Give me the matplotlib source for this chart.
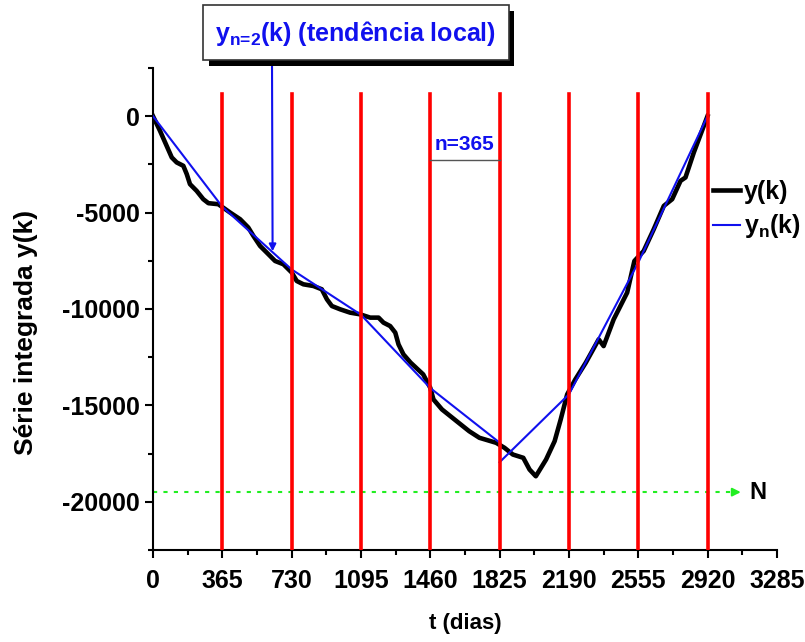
import numpy as np
import matplotlib
matplotlib.use('Agg')
from matplotlib import pyplot as plt
from matplotlib.patches import Rectangle

# série integrada y(k)
t_serie = [0, 37, 72, 99, 125, 160, 178, 195, 230, 265, 292, 344, 406, 459, 502, 529,
           564, 599, 643, 687, 731, 757, 792, 845, 889, 916, 942, 986, 1038, 1091,
           1144, 1188, 1214, 1249, 1276, 1293, 1319, 1357, 1423, 1460, 1477, 1522,
           1599, 1665, 1719, 1807, 1851, 1895, 1950, 1983, 2016, 2070, 2115, 2147,
           2181, 2224, 2279, 2347, 2373, 2426, 2497, 2535, 2584, 2637, 2690, 2734,
           2778, 2804, 2848, 2920]
y_serie = [0, -763, -1542, -2145, -2404, -2580, -3011, -3530, -3878, -4309, -4517,
           -4569, -5000, -5348, -5779, -6215, -6734, -7077, -7513, -7684, -8115,
           -8551, -8723, -8811, -8982, -9501, -9849, -10020, -10192, -10280, -10451,
           -10451, -10711, -10888, -11230, -11838, -12357, -12788, -13395, -14086,
           -14693, -15213, -15820, -16339, -16682, -16941, -17201, -17549, -17720,
           -18328, -18676, -17808, -16858, -15732, -14434, -13655, -12788, -11578,
           -11926, -10540, -9153, -7513, -6994, -5867, -4657, -4309, -3359, -3183,
           -1885, 0]

# tendência local y_n(k)
t_trend1 = [0, 365, 730, 1095, 1460, 1825]
y_trend1 = [0, -4700, -7950, -10300, -14100, -16930]
t_trend2 = [1825, 2190, 2555, 2920]
y_trend2 = [-17950, -14430, -7600, 0]

# divisões das caixas (n=365)
caixas = [365, 730, 1095, 1460, 1825, 2190, 2555, 2920]
x_ticks = [0, 365, 730, 1095, 1460, 1825, 2190, 2555, 2920, 3285]
y_ticks = [0, -5000, -10000, -15000, -20000]
N_nivel = -19500

plt.rcParams['font.family'] = ['Liberation Sans', 'DejaVu Sans']
plt.rcParams['axes.unicode_minus'] = False
plt.rcParams['mathtext.fontset'] = 'custom'
plt.rcParams['mathtext.bf'] = 'Liberation Sans:bold'
plt.rcParams['mathtext.rm'] = 'Liberation Sans:bold'

fig = plt.figure(figsize=(8.05, 6.42), dpi=100)
ax = fig.add_axes([0.190, 0.1433, 0.775, 0.751])

ax.plot(t_serie, y_serie, color='black', lw=3.3, solid_joinstyle='round', zorder=2, label='y(k)')
ax.plot(t_trend1, y_trend1, color='#1010ee', lw=1.5, zorder=3, label=r'y$_{\text{n}}$(k)')
ax.plot(t_trend2, y_trend2, color='#1010ee', lw=1.5, zorder=3)

for c in caixas:
    ax.plot([c, c], [-22500, 1150], color='#ff0000', lw=2.6, zorder=4)

# linha N
verde = '#22ee22'
ax.plot([0, 3060], [N_nivel, N_nivel], color=verde, lw=1.5, ls=(0, (2, 3)), zorder=1)
ax.annotate('', xy=(3110, N_nivel), xytext=(3040, N_nivel),
            arrowprops=dict(arrowstyle='-|>', color=verde, lw=1.5, mutation_scale=12))
ax.text(3140, N_nivel, 'N', fontsize=17, fontweight='bold', va='center', ha='left')

# n=365
ax.plot([1460, 1825], [-2300, -2300], color='#555555', lw=1, zorder=5)
ax.text(1642, -1950, 'n=365', color='#1010ee', fontsize=15, fontweight='bold',
        ha='center', va='bottom')

ax.set_xlim(0, 3285)
ax.set_ylim(-22500, 2500)
ax.set_xticks(x_ticks)
ax.set_xticks([x + 182.5 for x in x_ticks[:-1]], minor=True)
ax.set_yticks(y_ticks)
ax.set_yticks(np.arange(-22500, 2501, 2500), minor=True)
for lab in ax.get_xticklabels() + ax.get_yticklabels():
    lab.set_fontweight('bold')
ax.tick_params(axis='both', which='major', labelsize=18, length=6, width=1.5, direction='out')
ax.tick_params(axis='both', which='minor', length=3.5, width=1.5, direction='out')
ax.tick_params(axis='x', pad=8)
ax.spines['top'].set_visible(False)
ax.spines['right'].set_visible(False)
ax.spines['left'].set_linewidth(1.5)
ax.spines['bottom'].set_linewidth(1.5)

ax.set_xlabel('t (dias)', fontsize=16, fontweight='bold', labelpad=14)
ax.set_ylabel('Série integrada y(k)', fontsize=19, fontweight='bold')
ax.yaxis.set_label_coords(-0.185, 0.452)

leg = ax.legend(loc='center left', bbox_to_anchor=(0.897, 0.705), frameon=False,
                borderpad=0, borderaxespad=0,
                handlelength=1.1, handletextpad=0.15, labelspacing=0.35,
                prop={'size': 18, 'weight': 'bold'})

# caixa de anotação com sombra
fig.patches.append(Rectangle((209 / 805, 1 - 66 / 642), 305 / 805, 55 / 642,
                             transform=fig.transFigure, facecolor='black', edgecolor='none', zorder=5))
fig.patches.append(Rectangle((203 / 805, 1 - 60 / 642), 306 / 805, 55 / 642,
                             transform=fig.transFigure, facecolor='white', edgecolor='#333333',
                             lw=1.2, zorder=6))
fig.text(356 / 805, 1 - 33 / 642, r'y$_{\text{n=2}}$(k) (tendência local)', color='#1010ee',
         fontsize=18, fontweight='bold', ha='center', va='center', zorder=7)
ax.annotate('', xy=(630, -7010), xycoords='data',
            xytext=(272 / 805, 1 - 60 / 642), textcoords='figure fraction',
            arrowprops=dict(arrowstyle='-|>', color='#1010ee', lw=1.5, mutation_scale=10,
                            shrinkA=0, shrinkB=0))

fig.savefig('out.png', dpi=100)
